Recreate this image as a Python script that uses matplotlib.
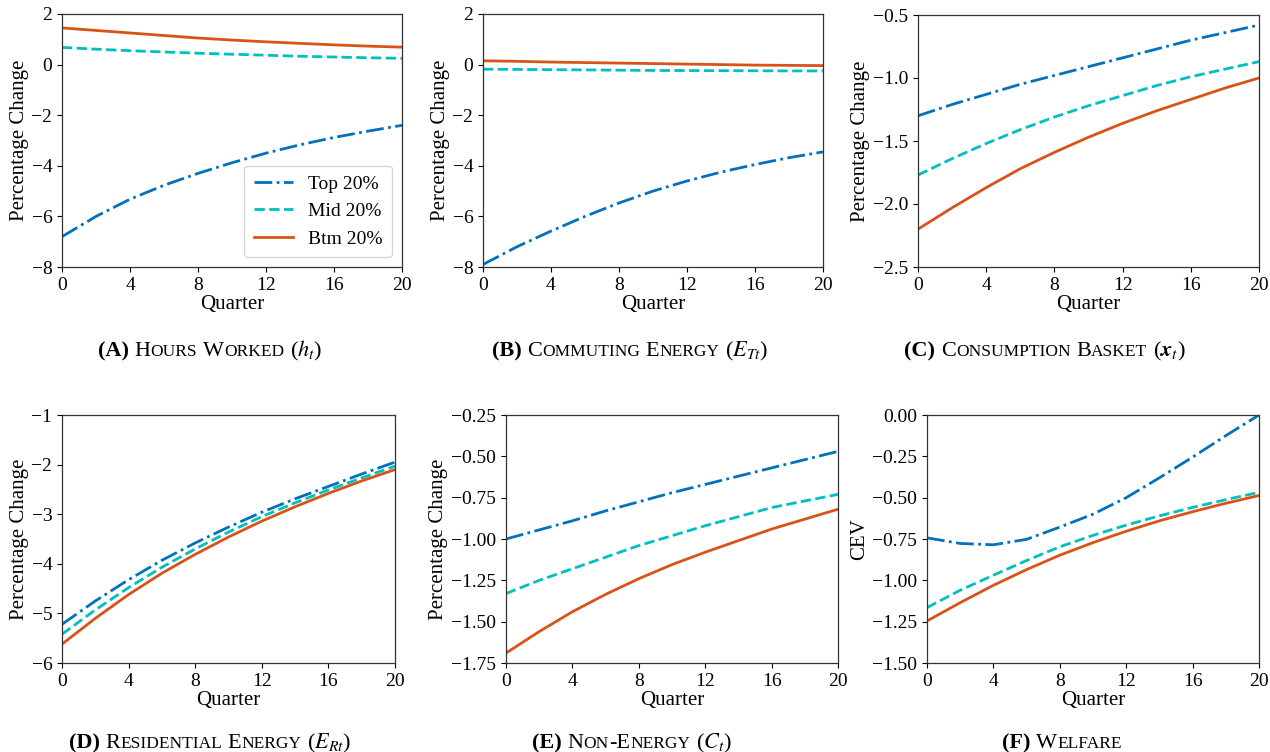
import numpy as np
import matplotlib
matplotlib.use("Agg")
import matplotlib.pyplot as plt

plt.rcParams['font.family'] = ['Liberation Serif', 'DejaVu Serif']
plt.rcParams['mathtext.fontset'] = 'stix'

quarters = [0, 2, 4, 6, 8, 10, 12, 14, 16, 18, 20]
groups = ["Top 20%", "Mid 20%", "Btm 20%"]

hours_top = [-6.8, -6.0, -5.32, -4.77, -4.3, -3.88, -3.5, -3.17, -2.88, -2.63, -2.4]
hours_mid = [0.68, 0.61, 0.55, 0.5, 0.45, 0.41, 0.37, 0.33, 0.3, 0.27, 0.25]
hours_btm = [1.45, 1.35, 1.25, 1.15, 1.05, 0.97, 0.9, 0.84, 0.78, 0.73, 0.69]

commute_top = [-7.9, -7.2, -6.58, -6.0, -5.47, -5.0, -4.6, -4.25, -3.95, -3.68, -3.45]
commute_mid = [-0.18, -0.19, -0.2, -0.21, -0.22, -0.23, -0.235, -0.24, -0.245, -0.25, -0.25]
commute_btm = [0.15, 0.13, 0.1, 0.08, 0.06, 0.04, 0.02, 0.0, -0.02, -0.03, -0.04]

basket_top = [-1.30, -1.21, -1.13, -1.05, -0.98, -0.91, -0.84, -0.77, -0.70, -0.64, -0.58]
basket_mid = [-1.77, -1.64, -1.52, -1.41, -1.31, -1.22, -1.14, -1.06, -0.99, -0.93, -0.87]
basket_btm = [-2.20, -2.03, -1.87, -1.72, -1.59, -1.47, -1.36, -1.26, -1.17, -1.08, -1.00]

resid_top = [-5.22, -4.75, -4.32, -3.93, -3.58, -3.26, -2.96, -2.69, -2.44, -2.19, -1.95]
resid_mid = [-5.42, -4.93, -4.48, -4.07, -3.70, -3.36, -3.05, -2.77, -2.51, -2.27, -2.03]
resid_btm = [-5.62, -5.1, -4.62, -4.19, -3.81, -3.46, -3.14, -2.85, -2.58, -2.33, -2.10]

nonen_top = [-1.0, -0.945, -0.89, -0.83, -0.775, -0.72, -0.67, -0.62, -0.57, -0.52, -0.47]
nonen_mid = [-1.33, -1.25, -1.18, -1.11, -1.04, -0.98, -0.92, -0.865, -0.81, -0.77, -0.73]
nonen_btm = [-1.69, -1.56, -1.44, -1.335, -1.24, -1.155, -1.08, -1.01, -0.94, -0.88, -0.82]

welfare_top = [-0.743, -0.777, -0.785, -0.752, -0.678, -0.60, -0.50, -0.38, -0.255, -0.125, 0.0]
welfare_mid = [-1.165, -1.06, -0.969, -0.88, -0.797, -0.728, -0.666, -0.61, -0.559, -0.512, -0.468]
welfare_btm = [-1.246, -1.135, -1.03, -0.935, -0.848, -0.772, -0.703, -0.64, -0.585, -0.534, -0.487]

colors = ['#0072BD', '#00BFBF', '#D95319']
styles = ['-.', '--', '-']

W, H = 1270, 752
fig = plt.figure(figsize=(W / 100, H / 100), dpi=100)


def px_axes(left, right, top, bottom):
    return fig.add_axes([left / W, 1 - bottom / H, (right - left) / W, (bottom - top) / H])


panels = [
    # (box px, series, ylim, yticks, fmt, ylabel, title label, title words, math, title x, title baseline)
    ((62, 402, 14, 267), [hours_top, hours_mid, hours_btm], (-8, 2), np.arange(-8, 3, 2), '{:.0f}',
     'Percentage Change', '(A)', 'Hours Worked', r'$h_t$', 210, 356),
    ((483, 823, 14, 267), [commute_top, commute_mid, commute_btm], (-8, 2), np.arange(-8, 3, 2), '{:.0f}',
     'Percentage Change', '(B)', 'Commuting Energy', r'$E_{Tt}$', 630, 356),
    ((918, 1259, 15, 267), [basket_top, basket_mid, basket_btm], (-2.5, -0.5), np.arange(-2.5, -0.49, 0.5), '{:.1f}',
     'Percentage Change', '(C)', 'Consumption Basket', r'$\boldsymbol{x}_t$', 1045, 356),
    ((62, 395, 415, 663), [resid_top, resid_mid, resid_btm], (-6, -1), np.arange(-6, -0.9, 1), '{:.0f}',
     'Percentage Change', '(D)', 'Residential Energy', r'$E_{Rt}$', 210, 748),
    ((506, 838, 415, 663), [nonen_top, nonen_mid, nonen_btm], (-1.75, -0.25), np.arange(-1.75, -0.24, 0.25), '{:.2f}',
     'Percentage Change', '(E)', 'Non-Energy', r'$C_t$', 632, 748),
    ((927, 1259, 415, 663), [welfare_top, welfare_mid, welfare_btm], (-1.5, 0.0), np.arange(-1.5, 0.01, 0.25), '{:.2f}',
     'CEV', '(F)', 'Welfare', None, 1062, 748),
]


def small_caps_pieces(word_text, big, small):
    pieces = []
    for ch in word_text:
        size = small if ch.islower() else big
        if pieces and pieces[-1][1] == size:
            pieces[-1][0] += ch.upper()
        else:
            pieces.append([ch.upper(), size])
    return pieces


def draw_title(xc, ybase, label, words, math):
    big, small = 16, 12.5
    pieces = [[label, big, 'bold']]
    for txt, size in small_caps_pieces(' ' + words, big, small):
        pieces.append([txt, size, 'normal'])
    if math is not None:
        pieces.append([' (' + math + ')', big, 'normal'])
    renderer = fig.canvas.get_renderer()
    texts = []
    x = 0.0
    for txt, size, weight in pieces:
        t = fig.text(0, 1 - ybase / H, txt, fontsize=size, fontweight=weight,
                     ha='left', va='baseline')
        # leading spaces are dropped from the extent, so measure them separately
        if txt.startswith(' '):
            sp = fig.text(0, 0, 'a a', fontsize=size)
            sp2 = fig.text(0, 0, 'aa', fontsize=size)
            gap = sp.get_window_extent(renderer).width - sp2.get_window_extent(renderer).width
            sp.remove()
            sp2.remove()
            x += gap
            t.set_text(txt.lstrip(' '))
        w = t.get_window_extent(renderer).width
        texts.append((t, x))
        x += w
    x0 = xc - x / 2
    for t, off in texts:
        t.set_x((x0 + off) / W)


for box, series, ylim, yticks, fmt, ylabel, lab, words, math, tx, ty in panels:
    ax = px_axes(*box)
    for vals, col, ls, name in zip(series, colors, styles, groups):
        ax.plot(quarters, vals, color=col, linestyle=ls, linewidth=2.0, label=name)
    ax.set_xlim(0, 20)
    ax.set_ylim(*ylim)
    ax.set_xticks([0, 4, 8, 12, 16, 20])
    ax.set_yticks(yticks)
    ax.set_yticklabels([fmt.format(v).replace('-', '\u2212') for v in yticks])
    ax.tick_params(labelsize=14)
    ax.set_xlabel('Quarter', fontsize=15, labelpad=1)
    ax.set_ylabel(ylabel, fontsize=15, labelpad=2)
    for s in ax.spines.values():
        s.set_linewidth(0.9)
        s.set_color('#333333')
    if lab == '(A)':
        ax.legend(loc='lower right', fontsize=14, handlelength=2.0, borderpad=0.5)
    draw_title(tx, ty, lab, words, math)

fig.savefig('out.png', dpi=100)
